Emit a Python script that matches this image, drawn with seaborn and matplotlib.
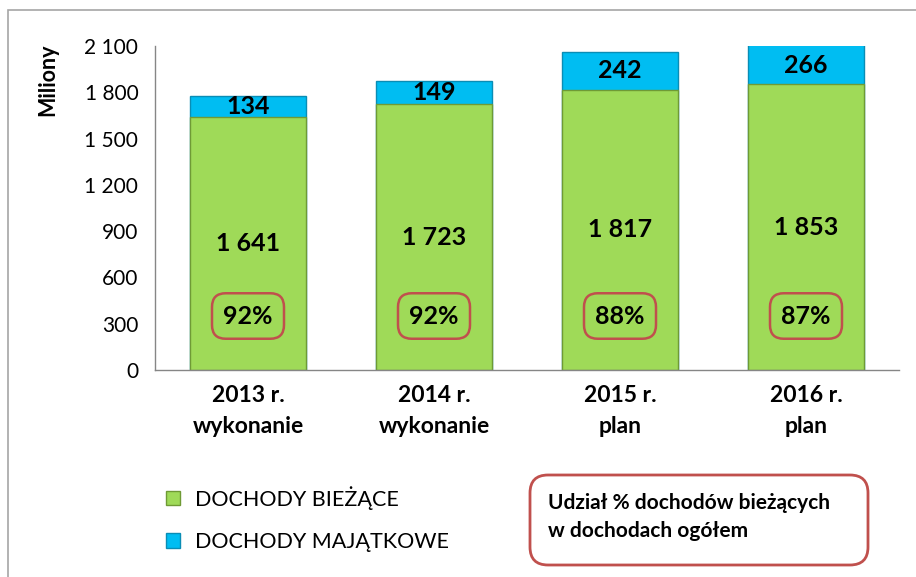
import pandas as pd
import matplotlib.pyplot as plt
import matplotlib.patches as mpatches
from matplotlib.transforms import IdentityTransform
import seaborn as sns

categories = ["2013 r.\nwykonanie", "2014 r.\nwykonanie", "2015 r.\nplan", "2016 r.\nplan"]
biezace = [1641, 1723, 1817, 1853]
majatkowe = [134, 149, 242, 266]
udzial = ["92%", "92%", "88%", "87%"]
yticks = [0, 300, 600, 900, 1200, 1500, 1800, 2100]
ytick_labels = ["0", "300", "600", "900", "1 200", "1 500", "1 800", "2 100"]

GREEN = "#9FDA58"
BLUE = "#00BDF2"
RED = "#C0504D"
GRAY = "#868686"
YMAX = 2100


def fmt(v):
    return f"{v:,}".replace(",", " ")


def main():
    sns.set_style("white")
    plt.rcParams["font.family"] = ["Lato", "DejaVu Sans"]
    plt.rcParams["text.color"] = "black"
    plt.rcParams["xtick.color"] = "black"
    plt.rcParams["ytick.color"] = "black"

    df = pd.DataFrame({
        "kat": categories,
        "biezace": biezace,
        "razem": [b + m for b, m in zip(biezace, majatkowe)],
    })

    fig = plt.figure(figsize=(9.16, 5.77), dpi=100)
    ax = fig.add_axes([155 / 916, 207 / 577, 744 / 916, 324 / 577])

    sns.barplot(data=df, x="kat", y="razem", color=BLUE, saturation=1,
                width=0.62, edgecolor="#0A8DB5", linewidth=1, ax=ax)
    sns.barplot(data=df, x="kat", y="biezace", color=GREEN, saturation=1,
                width=0.62, edgecolor="#6F9A35", linewidth=1, ax=ax)

    ax.set_ylim(0, YMAX)
    ax.set_xlim(-0.5, len(categories) - 0.5)
    ax.set_yticks(yticks)
    ax.set_yticklabels(ytick_labels, fontsize=15)
    ax.set_xticks(range(len(categories)))
    ax.set_xticklabels(categories, fontsize=16.5, fontweight="bold", linespacing=1.55)
    ax.set_xticks([i - 0.5 for i in range(len(categories) + 1)], minor=True)
    ax.tick_params(axis="x", which="major", length=0, pad=11)
    ax.tick_params(axis="x", which="minor", length=7, color=GRAY, width=1)
    ax.tick_params(axis="y", length=6, color=GRAY, width=1, pad=6)
    ax.set_xlabel("")
    ax.set_ylabel("")
    for s in ["top", "right"]:
        ax.spines[s].set_visible(False)
    for s in ["left", "bottom"]:
        ax.spines[s].set_color(GRAY)
        ax.spines[s].set_linewidth(1)

    for i, (b, m) in enumerate(zip(biezace, majatkowe)):
        ax.text(i, b / 2, fmt(b), ha="center", va="center",
                fontsize=18, fontweight="bold")
        top = min(b + m, YMAX)
        ax.text(i, (b + top) / 2, fmt(m), ha="center", va="center",
                fontsize=18, fontweight="bold")
        ax.text(i, 350, udzial[i], ha="center", va="center",
                fontsize=18, fontweight="bold",
                bbox=dict(boxstyle="round,pad=0.45,rounding_size=0.55",
                          fc="none", ec=RED, lw=1.8))

    fig.text(48 / 916, 1 - 80 / 577, "Miliony", rotation=90, ha="center",
             va="center", fontsize=15.5, fontweight="bold")

    handles = [mpatches.Patch(facecolor=GREEN, edgecolor="#6F9A35"),
               mpatches.Patch(facecolor=BLUE, edgecolor="#0A8DB5")]
    fig.legend(handles, ["DOCHODY BIEŻĄCE", "DOCHODY MAJĄTKOWE"],
               loc="upper left", bbox_to_anchor=(155 / 916, 1 - 475 / 577),
               frameon=False, fontsize=15.5, handlelength=0.65, handleheight=0.65,
               handletextpad=0.7, labelspacing=1.05, borderpad=0)

    box = mpatches.FancyBboxPatch((530, 12), 338, 90,
                                  boxstyle="round,pad=0,rounding_size=18",
                                  transform=IdentityTransform(),
                                  fc="white", ec=RED, lw=2)
    fig.add_artist(box)
    fig.text(548 / 916, 1 - 517 / 577,
             "Udział % dochodów bieżących\nw dochodach ogółem",
             ha="left", va="center", fontsize=15, fontweight="bold",
             linespacing=1.45)

    border = mpatches.Rectangle((8, -5), 1000, 572, transform=IdentityTransform(),
                                fill=False, ec="#A6A6A6", lw=1.2)
    fig.add_artist(border)

    fig.savefig("out.png", dpi=100)


if __name__ == "__main__":
    main()
